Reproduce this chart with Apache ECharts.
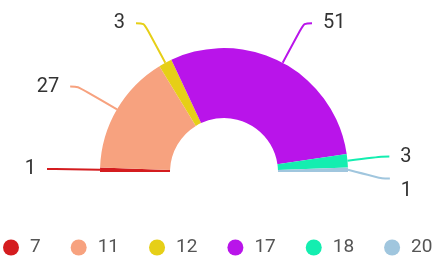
<!DOCTYPE html>
<html>
<head>
<meta charset="utf-8">
<script src="https://cdn.jsdelivr.net/npm/echarts@6/dist/echarts.min.js"></script>
<style>
  html, body { margin: 0; padding: 0; background: #fff; }
  #chart { width: 437px; height: 257px; }
</style>
</head>
<body>
<div id="chart"></div>
<script>
var categories = ['7', '11', '12', '17', '18', '20'];
var seats = [1, 27, 3, 51, 3, 1];
var colors = ['#d41c1f', '#f7a27f', '#e6cf17', '#b914ea', '#14eeb0', '#a0c6de'];

var chart = echarts.init(document.getElementById('chart'));

var pieData = categories.map(function (c, i) {
    return { name: c, value: seats[i] };
});

var option = {
    animation: false,
    color: colors,
    textStyle: { fontFamily: 'Roboto, sans-serif' },
    legend: {
        data: categories,
        top: 238,
        left: 3,
        padding: 0,
        icon: 'circle',
        itemWidth: 28,
        itemHeight: 16,
        itemGap: 30,
        textStyle: { fontSize: 19, color: '#555' }
    },
    series: [
        {
            type: 'pie',
            center: [224, 172],
            radius: [54, 124],
            startAngle: 180,
            endAngle: 0,
            clockwise: true,
            data: pieData,
            label: {
                show: true,
                formatter: '{c}',
                fontSize: 20,
                color: '#333',
                distanceToLabelLine: 11
            },
            labelLine: {
                show: true,
                length: 45,
                length2: 8,
                smooth: 0.3,
                lineStyle: { width: 2 }
            },
            labelLayout: function (params) {
                // last small slice label sits lower in the reference
                if (params.dataIndex === seats.length - 1) {
                    return { dy: 12 };
                }
            }
        }
    ]
};

chart.setOption(option);
</script>
</body>
</html>
